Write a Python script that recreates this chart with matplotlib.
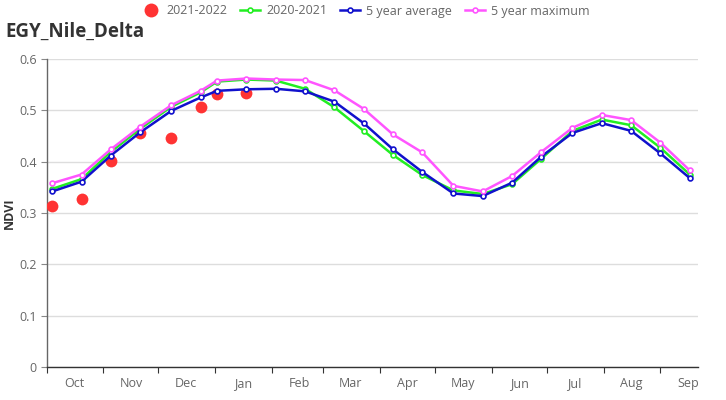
import matplotlib
matplotlib.use("Agg")
import matplotlib.pyplot as plt
import numpy as np
import pandas as pd

plt.rcParams['font.family'] = ['Open Sans', 'DejaVu Sans']

dates = ["2021-10-04", "2021-10-20", "2021-11-05", "2021-11-21", "2021-12-08", "2021-12-24",
         "2022-01-02", "2022-01-18", "2022-02-03", "2022-02-19", "2022-03-07", "2022-03-23",
         "2022-04-08", "2022-04-24", "2022-05-11", "2022-05-27", "2022-06-12", "2022-06-28",
         "2022-07-15", "2022-07-31", "2022-08-16", "2022-09-01", "2022-09-17"]

cur = [0.313, 0.327, 0.401, 0.455, 0.446, 0.506, 0.532, 0.534]
prev = [0.347, 0.366, 0.419, 0.464, 0.507, 0.535, 0.556, 0.560, 0.558, 0.542, 0.506, 0.460,
        0.413, 0.374, 0.344, 0.337, 0.356, 0.406, 0.460, 0.482, 0.471, 0.427, 0.375]
avg5 = [0.342, 0.361, 0.412, 0.457, 0.499, 0.525, 0.538, 0.541, 0.542, 0.537, 0.517, 0.475,
        0.424, 0.380, 0.338, 0.333, 0.359, 0.410, 0.456, 0.475, 0.460, 0.416, 0.368]
max5 = [0.358, 0.375, 0.424, 0.468, 0.510, 0.538, 0.558, 0.562, 0.560, 0.559, 0.539, 0.503,
        0.453, 0.418, 0.353, 0.342, 0.372, 0.419, 0.466, 0.491, 0.481, 0.437, 0.383]

month_labels = ["Oct", "Nov", "Dec", "Jan", "Feb", "Mar", "Apr", "May", "Jun", "Jul", "Aug", "Sep"]
yticks = [0, 0.1, 0.2, 0.3, 0.4, 0.5, 0.6]

x = pd.to_datetime(dates)

fig = plt.figure(figsize=(7.26, 4.0), dpi=100)
ax = fig.add_axes([46.7/726, 1-367/400, (698.3-46.7)/726, (367-59)/400])

mk = dict(marker='o', markersize=3.5, markerfacecolor='white', markeredgewidth=1.2, linewidth=1.8)
ax.plot(x[:len(cur)], cur, linestyle='none', marker='o', markersize=8.5, color='#ff3333',
        markeredgewidth=0, label='2021-2022', zorder=3)
ax.plot(x, prev, color='#22ee22', label='2020-2021', zorder=4, **mk)
ax.plot(x, avg5, color='#1111cc', label='5 year average', zorder=5, **mk)
ax.plot(x, max5, color='#ff55ff', label='5 year maximum', zorder=6, **mk)

ax.set_xlim(pd.Timestamp("2021-10-01"), pd.Timestamp("2022-09-21 16:00"))
ax.set_ylim(0, 0.6)

major = pd.date_range("2021-10-01", "2022-09-01", freq="MS")
minor = major + pd.Timedelta(days=15)
ax.set_xticks(major)
ax.set_xticklabels([])
ax.set_xticks(minor, minor=True)
ax.set_xticklabels(month_labels, minor=True)
ax.tick_params(axis='x', which='major', length=4, color='#333333', width=0.8)
ax.tick_params(axis='x', which='minor', length=0, labelsize=9, labelcolor='#666666', pad=7)

ax.set_yticks(yticks)
ax.set_yticklabels(["0", "0.1", "0.2", "0.3", "0.4", "0.5", "0.6"])
ax.tick_params(axis='y', length=4, color='#888888', labelsize=9, labelcolor='#666666', width=0.8, pad=3)
ax.grid(axis='y', color='#dddddd', linewidth=1)
ax.set_axisbelow(True)

for s in ['top', 'right']:
    ax.spines[s].set_visible(False)
ax.spines['left'].set_color('#666666')
ax.spines['bottom'].set_color('#333333')
ax.spines['left'].set_linewidth(1)
ax.spines['bottom'].set_linewidth(1)

ax.set_ylabel("NDVI", fontsize=9, fontweight='bold', color='#333333')
ax.yaxis.set_label_coords((16 - 46.7) / 651.6, 0.5)

fig.text(5/726, 1-32/400, "EGY_Nile_Delta", fontsize=13.5, fontweight='bold', color='#333333',
         ha='left', va='center')

leg = fig.legend(loc='center', bbox_to_anchor=(365/726, 1-11/400), ncol=4, frameon=False,
                 fontsize=9, handlelength=1.6, handletextpad=0.5, columnspacing=1.0,
                 labelcolor='#666666')
leg.legend_handles[0].set_markersize(10)

fig.savefig("out.png", dpi=100)
